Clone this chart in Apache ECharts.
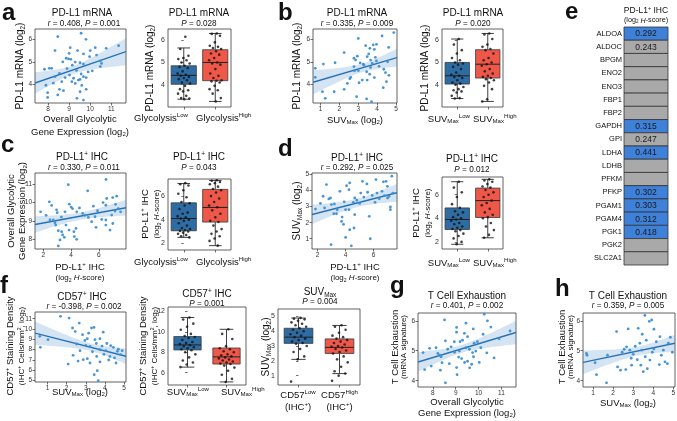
<!DOCTYPE html>
<html><head><meta charset="utf-8">
<script src="https://cdn.jsdelivr.net/npm/echarts@6/dist/echarts.min.js"></script>
<style>html,body{margin:0;padding:0;background:#fff}#c{width:677px;height:421px}</style>
</head><body><div id="c"></div>
<script>
// ================= DATA =================
// a: PD-L1 mRNA vs overall glycolytic gene expression
const aX = [8.46,9.57,9.80,8.33,9.05,10.24,10.76,11.35,9.40,9.00,9.68,9.97,8.86,8.97,9.08,9.29,9.52,9.68,10.48,10.54,10.48,7.83,8.06,8.17,8.33,8.54,8.81,9.02,9.21,9.44,9.52,9.68,9.81,9.29,9.13,9.57,7.90,8.65,7.98,8.54,8.73,9.52,9.81,9.37,7.98,8.46,9.68,9.90,8.90,10.10,9.35,8.70,9.15,10.00,8.25,9.60,10.30];
const aY = [6.12,6.27,6.00,5.50,5.63,5.63,5.60,5.72,5.50,5.38,5.35,5.23,5.16,5.13,5.11,4.99,4.96,4.90,5.04,4.93,4.79,4.67,4.71,4.71,4.34,4.49,4.30,4.41,4.27,4.19,4.22,4.34,4.30,4.04,4.12,4.46,3.96,4.12,3.63,3.78,3.72,3.67,3.78,3.38,3.42,3.53,3.30,4.55,4.70,4.60,4.62,5.00,4.85,5.50,4.05,3.95,5.30];
// a box: [low whisker, q1, median, q3, high whisker]
const aBoxLow  = [3.35,4.02,4.42,4.85,5.65];
const aBoxHigh = [3.25,4.18,5.00,5.57,6.30];
const aDotsLow  = [6.15,5.60,5.30,5.20,5.15,5.10,5.00,4.95,4.85,4.80,4.75,4.60,4.50,4.45,4.40,4.35,4.30,4.25,4.20,4.10,4.05,3.95,3.80,3.75,3.70,3.60,3.50,3.40,3.38,3.35];
const aDotsHigh = [6.30,6.28,6.20,5.90,5.75,5.70,5.65,5.60,5.50,5.40,5.35,5.20,5.10,5.00,4.95,4.90,4.70,4.50,4.40,4.30,4.20,4.18,4.15,4.10,3.95,3.80,3.75,3.60,3.40,3.25];

// b: PD-L1 mRNA vs SUVmax
const bX = [4.26,4.88,3.79,3.00,3.39,3.61,3.96,4.61,2.25,1.77,2.77,2.86,3.47,3.65,3.26,3.74,3.96,4.35,4.44,0.72,0.72,2.77,2.60,3.00,3.44,3.47,3.21,3.04,2.42,2.25,1.72,1.10,1.25,2.91,3.44,3.70,4.32,4.49,3.55,3.85,2.95,3.10,3.60,3.85,4.10,2.55,3.30,4.55,3.65,2.80,3.90,4.62,1.15];
const bY = [6.15,6.30,5.75,6.04,5.72,5.60,5.78,5.64,5.41,4.96,5.16,5.08,5.23,5.08,4.90,4.93,5.04,4.67,4.52,4.71,4.31,4.79,4.31,4.61,4.56,4.19,4.19,4.07,4.04,3.78,3.67,3.67,3.38,3.45,3.35,3.23,3.85,4.12,5.35,5.55,5.25,4.95,4.45,4.30,4.80,4.25,4.85,5.00,4.75,4.60,5.20,4.40,4.90];
const bBoxLow  = [3.38,4.03,4.40,5.00,6.05];
const bBoxHigh = [3.25,4.30,4.92,5.57,6.30];
const bDotsLow  = [6.05,5.80,5.55,5.40,5.20,5.10,5.00,4.95,4.90,4.80,4.70,4.55,4.45,4.40,4.35,4.30,4.20,4.10,4.05,4.00,3.90,3.80,3.75,3.70,3.65,3.50,3.40,3.38];
const bDotsHigh = [6.30,6.25,6.05,5.80,5.70,5.60,5.55,5.40,5.20,5.10,5.00,4.92,4.85,4.70,4.60,4.50,4.40,4.35,4.30,4.25,4.20,4.10,3.95,3.80,3.35,3.25];

// c: overall glycolytic expression vs PD-L1+ IHC
const cX = [6.51,3.80,5.19,2.43,2.60,1.80,3.87,4.10,4.40,3.56,3.00,4.83,6.50,6.56,6.99,7.28,7.40,7.16,7.56,6.92,5.72,5.24,6.20,6.50,5.48,5.79,6.50,6.80,2.48,2.72,2.84,2.89,3.08,3.32,3.63,3.85,4.20,4.35,3.39,3.20,3.51,4.23,4.40,3.08,4.60,5.00,5.90,6.30,7.20,2.20,3.30,4.00,5.60,7.00,2.95];
const cY = [11.27,10.98,10.64,10.04,9.84,9.49,9.91,9.67,9.49,9.49,9.44,9.40,9.85,10.22,10.27,10.35,9.67,9.53,9.49,9.31,9.22,9.18,9.07,9.04,8.95,8.64,8.76,8.49,9.04,9.04,8.89,8.76,8.45,8.40,8.76,8.49,8.40,8.58,8.22,7.95,8.09,8.13,7.98,7.62,9.70,9.30,9.55,10.00,9.90,9.30,9.20,9.75,9.80,8.85,9.60];
const cBoxLow  = [2.50,3.06,4.10,5.43,7.07];
const cBoxHigh = [1.80,3.80,5.04,6.57,7.33];
const cDotsLow  = [7.10,7.00,6.90,6.50,6.20,5.90,5.50,5.40,5.20,4.90,4.60,4.50,4.30,4.20,4.10,4.00,3.90,3.70,3.50,3.30,3.20,3.10,3.05,3.00,2.90,2.80,2.70,2.60,2.50];
const cDotsHigh = [7.35,7.30,7.20,7.10,7.00,6.80,6.60,6.50,6.30,6.00,5.80,5.50,5.20,5.05,4.80,4.50,4.20,3.90,3.80,3.50,3.20,3.00,2.80,2.60,2.40,2.20,1.80];

// d: SUVmax vs PD-L1+ IHC
const dX = [2.63,2.39,2.92,2.80,2.99,2.50,3.20,3.35,3.40,3.16,3.59,3.71,4.07,4.29,4.24,4.00,4.24,4.55,4.65,4.65,4.60,4.29,4.00,4.41,2.96,5.20,5.52,5.57,5.08,5.69,5.76,6.17,6.24,6.10,6.60,6.89,7.30,6.98,6.77,7.00,7.10,7.20,7.20,7.37,1.85,2.20,3.90,4.80,5.30,5.90,6.40,6.70,3.75,3.85,5.00];
const dY = [4.38,3.65,3.54,3.48,3.13,2.92,3.17,2.56,2.81,2.56,3.96,2.08,4.31,4.48,4.06,2.81,2.81,3.27,3.54,2.50,1.67,1.56,1.08,0.56,0.63,4.58,4.42,3.90,3.85,2.40,1.00,4.69,3.85,3.27,3.96,4.58,4.90,4.27,3.69,3.54,3.65,2.98,2.81,3.85,2.85,3.20,3.30,3.40,3.60,3.70,3.50,4.55,2.35,1.90,3.20];
const dBoxLow  = [1.80,3.05,3.90,4.88,7.10];
const dBoxHigh = [2.35,4.07,5.50,6.56,7.30];
const dDotsLow  = [7.10,6.60,6.20,5.80,5.20,4.90,4.60,4.50,4.30,4.10,4.00,3.90,3.80,3.60,3.50,3.30,3.20,3.10,3.00,2.90,2.70,2.50,2.30,2.00,1.80];
const dDotsHigh = [7.30,7.20,7.10,6.90,6.70,6.60,6.40,6.20,6.00,5.80,5.50,5.30,5.10,4.80,4.50,4.30,4.10,4.00,3.60,3.30,3.00,2.60,2.35];

// e: correlation with PD-L1+ IHC
const eGenes = ['ALDOA','ALDOC','BPGM','ENO2','ENO3','FBP1','FBP2','GAPDH','GPI','LDHA','LDHB','PFKM','PFKP','PGAM1','PGAM4','PGK1','PGK2','SLC2A1'];
const eR     = [0.292,0.243,null,null,null,null,null,0.315,0.247,0.441,null,null,0.302,0.303,0.312,0.418,null,null];
const eSig   = [true,false,false,false,false,false,false,true,false,true,false,false,true,true,true,true,false,false];

// f: CD57+ staining density vs SUVmax
const fX = [1.68,2.13,2.31,2.66,3.30,3.43,2.83,3.08,3.48,3.74,3.91,0.60,1.03,0.63,2.52,3.00,3.22,3.74,4.05,4.30,4.44,4.65,4.82,4.26,4.58,3.57,3.08,2.87,2.34,2.08,3.22,3.60,3.44,3.65,3.74,2.95,3.55,3.85,4.10,4.90,4.50,3.35,2.70,3.95,4.70,2.45,3.15,4.20,2.60];
const fY = [11.23,11.06,10.10,10.58,10.10,10.16,9.45,9.06,8.97,9.06,9.70,9.29,8.97,8.23,8.55,8.42,8.32,8.00,7.90,8.39,8.23,7.84,7.52,7.35,6.71,7.35,7.13,7.03,7.45,6.61,6.71,5.97,5.58,5.00,6.81,8.90,8.60,8.35,8.60,7.90,7.20,7.80,7.90,7.55,8.05,9.75,9.60,7.00,6.90];
const fBoxLow  = [6.55,8.23,8.72,9.54,11.40];
const fBoxHigh = [5.10,6.85,7.55,8.42,10.25];
const fDotsLow  = [11.40,11.20,10.80,10.50,10.20,9.80,9.60,9.50,9.40,9.20,9.00,8.90,8.80,8.70,8.60,8.50,8.40,8.30,8.20,8.00,7.80,7.50,7.20,7.00,6.80,6.55];
const fDotsHigh = [10.25,9.80,9.30,8.60,8.40,8.30,8.10,8.00,7.80,7.70,7.60,7.50,7.40,7.30,7.20,7.10,7.00,6.90,6.85,6.70,6.50,6.20,5.80,5.40,5.10];
// f (right): SUVmax by CD57 group
const f2BoxLow  = [2.10,3.18,3.60,4.20,4.89];
const f2BoxHigh = [1.14,2.50,2.91,3.48,4.39];
const f2DotsLow  = [4.90,4.85,4.80,4.70,4.60,4.50,4.40,4.30,4.20,4.10,4.00,3.90,3.80,3.70,3.60,3.50,3.40,3.30,3.20,3.15,3.00,2.80,2.60,2.30,2.10,0.60];
const f2DotsHigh = [4.40,4.30,4.10,3.90,3.70,3.60,3.50,3.40,3.30,3.20,3.10,3.00,2.95,2.90,2.80,2.70,2.60,2.50,2.30,2.10,1.90,1.60,1.30,1.15,1.00,0.65];

// g: T cell exhaustion vs overall glycolytic expression
const gX = [8.51,10.25,10.39,9.04,9.04,9.45,9.77,10.54,8.55,8.94,8.80,9.19,9.38,9.52,9.81,9.45,9.16,9.74,9.88,9.78,10.36,10.68,9.13,9.26,9.39,9.52,10.03,8.14,7.86,8.22,8.29,8.36,7.57,7.64,7.93,8.33,8.72,9.04,9.06,8.55,9.61,11.38,9.95,10.10,8.65,9.30,9.60,8.40,10.90,9.70,8.95,10.20];
const gY = [6.03,6.22,6.00,5.78,5.62,5.92,5.73,5.79,5.33,5.30,5.13,5.30,5.58,5.47,5.25,5.10,4.99,4.94,4.99,4.80,4.93,4.76,4.79,4.74,4.61,4.65,4.61,5.10,5.08,4.91,4.85,4.80,4.94,4.37,4.49,4.35,4.57,4.44,4.20,3.93,4.43,5.66,5.30,5.10,5.05,5.35,5.05,4.60,5.40,4.55,4.95,5.55];
// h: T cell exhaustion vs SUVmax
const hX = [0.67,0.70,1.10,1.17,1.67,1.72,2.17,2.22,2.37,2.63,2.67,2.83,2.75,2.92,3.00,3.25,3.33,3.42,3.38,3.58,3.80,3.92,4.03,3.60,3.83,4.03,4.33,4.50,4.58,4.70,4.75,4.30,2.55,3.10,3.45,3.65,3.20,3.95,4.15,4.85,2.90,3.50,4.40,2.45,3.70,4.95];
const hY = [4.91,4.85,4.60,4.20,3.93,4.85,5.64,4.46,4.35,4.37,5.13,5.02,5.73,4.52,4.88,5.75,5.25,5.02,4.52,6.18,5.98,6.03,5.72,4.80,4.69,5.06,5.47,5.02,4.63,4.57,5.25,4.54,5.05,5.15,5.55,5.35,4.70,4.95,5.30,5.45,4.75,4.30,4.85,4.95,4.40,4.95];

// ================= RENDERING =================
const FONT = '"Liberation Sans", Arial, Helvetica, sans-serif';
const INK = '#111';
const BLUE_BOX = '#2e6ca4', RED_BOX = '#ef5848';
const PT = '#3f8fd3', LINE = '#2471b5', BAND = 'rgba(60,130,200,0.22)';
const grid = [], xAxis = [], yAxis = [], series = [], graphic = [];

function R(fs) {
  const s = fs * 0.64;
  return {
    i:   {fontStyle:'italic', fontSize:fs, fontFamily:FONT, fill:INK, color:INK},
    sub: {fontSize:s, fontFamily:FONT, verticalAlign:'bottom', lineHeight:s*1.05, fill:INK, color:INK},
    sup: {fontSize:s, fontFamily:FONT, verticalAlign:'top', lineHeight:s*1.05, fill:INK, color:INK}
  };
}
function T(x, y, text, fs, o = {}) {
  graphic.push({type:'text', x, y, rotation:o.rot || 0, silent:true, z:50,
    style:{text, fontSize:fs, fontFamily:FONT, fontWeight:o.bold ? 'bold' : 'normal', fill:INK,
      align:o.align || 'center', verticalAlign:o.va || 'middle', lineHeight:fs*1.15, rich:R(fs)}});
}
function addGrid(b, show = true) {
  grid.push({left:b[0], top:b[1], width:b[2], height:b[3], show, borderColor:'#3a3a3a', borderWidth:0.8,
    backgroundColor:'rgba(0,0,0,0)', containLabel:false, outerBoundsMode:'none'});
  return grid.length - 1;
}
function vAxis(gi, min, max, ticks, fs, showLabel = true) {
  return {type:'value', gridIndex:gi, min, max, axisLine:{show:false}, splitLine:{show:false},
    axisTick:{show:true, length:2.5, lineStyle:{color:'#333', width:0.7}, customValues:ticks},
    axisLabel:{show:showLabel, customValues:ticks, fontSize:fs, color:'#333', margin:3, fontFamily:FONT}};
}
function ols(xs, ys) {
  const n = xs.length;
  const mx = xs.reduce((s, v) => s + v, 0) / n, my = ys.reduce((s, v) => s + v, 0) / n;
  let sxx = 0, sxy = 0;
  for (let i = 0; i < n; i++) { sxx += (xs[i] - mx) ** 2; sxy += (xs[i] - mx) * (ys[i] - my); }
  const b = sxy / sxx, a = my - b * mx;
  let sse = 0;
  for (let i = 0; i < n; i++) sse += (ys[i] - a - b * xs[i]) ** 2;
  return {a, b, mx, n, sxx, s:Math.sqrt(sse / (n - 2))};
}
function scatterPanel(box, xr, yr, xt, yt, xs, ys) {
  const gi = addGrid(box);
  xAxis.push(vAxis(gi, xr[0], xr[1], xt, 6.5));
  yAxis.push(vAxis(gi, yr[0], yr[1], yt, 6.5));
  const ai = xAxis.length - 1;
  const f = ols(xs, ys);
  series.push({type:'custom', xAxisIndex:ai, yAxisIndex:ai, clip:true, silent:true, z:1, data:[[0]],
    renderItem:(p, api) => {
      const up = [], lo = [], N = 40;
      for (let k = 0; k <= N; k++) {
        const x = xr[0] + (xr[1] - xr[0]) * k / N, yh = f.a + f.b * x;
        const se = f.s * Math.sqrt(1 / f.n + (x - f.mx) ** 2 / f.sxx) * 1.99;
        up.push(api.coord([x, yh + se])); lo.push(api.coord([x, yh - se]));
      }
      const p0 = api.coord([xr[0], f.a + f.b * xr[0]]), p1 = api.coord([xr[1], f.a + f.b * xr[1]]);
      return {type:'group', children:[
        {type:'polygon', shape:{points:up.concat(lo.reverse())}, style:{fill:BAND}},
        {type:'line', shape:{x1:p0[0], y1:p0[1], x2:p1[0], y2:p1[1]}, style:{stroke:LINE, lineWidth:1.4}}
      ]};
    }});
  series.push({type:'scatter', xAxisIndex:ai, yAxisIndex:ai, silent:true, z:3, symbolSize:2.8,
    itemStyle:{color:PT, opacity:0.95}, data:xs.map((x, i) => [x, ys[i]])});
}
function jit(k) { return (((k * 0.6180339887) % 1) - 0.5) * 0.42; }
function boxPanel(box, yr, yt, stats, dots, bw) {
  const gi = addGrid(box);
  xAxis.push(vAxis(gi, -0.5, 1.5, [0, 1], 9.5, false));
  yAxis.push(vAxis(gi, yr[0], yr[1], yt, 7));
  const ai = xAxis.length - 1;
  const cols = [BLUE_BOX, RED_BOX];
  series.push({type:'custom', xAxisIndex:ai, yAxisIndex:ai, silent:true, z:2,
    data:stats.map((s, i) => [i].concat(s)),
    renderItem:(p, api) => {
      const i = api.value(0);
      const w = api.size([1, 0])[0] * (bw || 0.8), cw = w * 0.5;
      const P = k => api.coord([i, api.value(k)]);
      const lo = P(1), q1 = P(2), md = P(3), q3 = P(4), hi = P(5), cx = lo[0];
      const st = {stroke:'#2b2b2b', lineWidth:0.9};
      return {type:'group', children:[
        {type:'line', shape:{x1:cx, y1:lo[1], x2:cx, y2:q1[1]}, style:st},
        {type:'line', shape:{x1:cx, y1:q3[1], x2:cx, y2:hi[1]}, style:st},
        {type:'line', shape:{x1:cx - cw / 2, y1:lo[1], x2:cx + cw / 2, y2:lo[1]}, style:st},
        {type:'line', shape:{x1:cx - cw / 2, y1:hi[1], x2:cx + cw / 2, y2:hi[1]}, style:st},
        {type:'rect', shape:{x:cx - w / 2, y:q3[1], width:w, height:q1[1] - q3[1]}, style:{fill:cols[i], stroke:'#3a3a3a', lineWidth:0.8}},
        {type:'line', shape:{x1:cx - w / 2, y1:md[1], x2:cx + w / 2, y2:md[1]}, style:{stroke:'#222', lineWidth:1}}
      ]};
    }});
  dots.forEach((arr, i) => {
    series.push({type:'scatter', xAxisIndex:ai, yAxisIndex:ai, silent:true, z:4, symbolSize:2.6,
      itemStyle:{color:'#111'}, data:arr.map((v, k) => [i + jit(k + 1), v])});
  });
}

// ---- panel a ----
scatterPanel([35, 29, 91, 74], [7.38, 11.7], [3.17, 6.46], [8, 9, 10, 11], [4, 5, 6], aX, aY);
boxPanel([168, 29, 63, 78], [3.0, 6.5], [4, 5, 6], [aBoxLow, aBoxHigh], [aDotsLow, aDotsHigh]);
// ---- panel b ----
scatterPanel([313, 29, 84, 74], [0.6, 5.05], [3.17, 6.46], [1, 2, 3, 4, 5], [4, 5, 6], bX, bY);
boxPanel([442, 29, 61, 78], [3.0, 6.5], [4, 5, 6], [bBoxLow, bBoxHigh], [bDotsLow, bDotsHigh]);
// ---- panel c ----
scatterPanel([35, 173, 91, 76], [1.4, 7.95], [7.45, 11.62], [2, 4, 6], [8, 9, 10, 11], cX, cY);
boxPanel([168, 179, 63, 71], [1.43, 7.45], [2, 4, 6], [cBoxLow, cBoxHigh], [cDotsLow, cDotsHigh]);
// ---- panel d ----
scatterPanel([312, 173, 85, 76], [1.6, 7.67], [0.36, 5.1], [2, 4, 6], [1, 2, 3, 4, 5], dX, dY);
boxPanel([442, 177, 61, 72], [1.4, 7.5], [2, 4, 6], [dBoxLow, dBoxHigh], [dDotsLow, dDotsHigh]);
// ---- panel f ----
scatterPanel([35, 312, 91, 70], [0.35, 5.1], [4.87, 11.65], [1, 2, 3, 4, 5], [5, 6, 7, 8, 9, 10, 11], fX, fY);
boxPanel([168, 307, 78, 78], [4.8, 12.43], [6, 8, 10, 12], [fBoxLow, fBoxHigh], [fDotsLow, fDotsHigh], 0.7);
boxPanel([278, 309, 82, 76], [0.37, 5.5], [1, 2, 3, 4, 5], [f2BoxLow, f2BoxHigh], [f2DotsLow, f2DotsHigh], 0.7);
// ---- panel g, h ----
scatterPanel([418, 313, 98, 74], [7.35, 11.64], [3.79, 6.26], [8, 9, 10, 11], [4, 5, 6], gX, gY);
scatterPanel([583, 313, 92, 74], [0.5, 5.08], [3.79, 6.26], [1, 2, 3, 4, 5], [4, 5, 6], hX, hY);

// ---- panel e: table ----
{
  const gi = addGrid([624, 27, 44, 238], false);
  xAxis.push({type:'category', gridIndex:gi, data:['r'], axisLine:{show:false}, axisTick:{show:false}, axisLabel:{show:false}, splitLine:{show:false}});
  yAxis.push({type:'category', gridIndex:gi, data:eGenes, inverse:true, axisLine:{show:false}, axisTick:{show:false}, splitLine:{show:false},
    axisLabel:{fontSize:7.5, color:INK, margin:2, fontFamily:FONT}});
  const ai = xAxis.length - 1;
  series.push({type:'custom', xAxisIndex:ai, yAxisIndex:ai, silent:true, z:2,
    data:eGenes.map((g, i) => [0, i]),
    renderItem:(p, api) => {
      const i = p.dataIndex, c = api.coord([0, i]);
      const w = api.size([1, 0])[0], h = api.size([0, 1])[1];
      const ch = [{type:'rect', shape:{x:c[0] - w / 2, y:c[1] - h / 2, width:w, height:h},
        style:{fill:eSig[i] ? '#3f80d8' : '#a9a9a9', stroke:'#333', lineWidth:0.8}}];
      if (eR[i] !== null) ch.push({type:'text', x:c[0], y:c[1] + 0.5, style:{text:eR[i].toFixed(3), fontSize:8.5, fontFamily:FONT, fill:'#1a1a1a', align:'center', verticalAlign:'middle'}});
      return {type:'group', children:ch};
    }});
}

// ---- texts ----
const ROT = Math.PI / 2;
// panel letters
T(2, 13, 'a', 24, {bold:true, align:'left'});
T(278, 13, 'b', 24, {bold:true, align:'left'});
T(1, 145, 'c', 24, {bold:true, align:'left'});
T(278, 149, 'd', 24, {bold:true, align:'left'});
T(565, 12, 'e', 24, {bold:true, align:'left'});
T(0, 286, 'f', 24, {bold:true, align:'left'});
T(390, 286, 'g', 24, {bold:true, align:'left'});
T(555, 289, 'h', 24, {bold:true, align:'left'});
// a
T(82, 13, 'PD-L1 mRNA', 10); T(84, 23.5, '{i|r} = 0.408, {i|P} = 0.001', 8.2);
T(199, 13, 'PD-L1 mRNA', 10); T(199, 23.5, '{i|P} = 0.028', 8.2);
T(20, 66, 'PD-L1 mRNA (log{sub|2})', 10, {rot:ROT});
T(150, 68, 'PD-L1 mRNA (log{sub|2})', 10, {rot:ROT});
T(80, 119, 'Overall Glycolytic', 9.5); T(80, 132, 'Gene Expression (log{sub|2})', 9.5);
T(188, 118, 'Glycolysis{sup|Low}', 9.5, {align:'right'});
T(196, 118, 'Glycolysis{sup|High}', 9.5, {align:'left'});
// b
T(357, 13, 'PD-L1 mRNA', 10); T(357, 23.5, '{i|r} = 0.335, {i|P} = 0.009', 8.2);
T(473, 13, 'PD-L1 mRNA', 10); T(473, 23.5, '{i|P} = 0.020', 8.2);
T(297, 66, 'PD-L1 mRNA (log{sub|2})', 10, {rot:ROT});
T(425, 68, 'PD-L1 mRNA (log{sub|2})', 10, {rot:ROT});
T(355, 120, 'SUV{sub|Max} (log{sub|2})', 9.5);
T(470, 119, 'SUV{sub|Max}{sup|Low}', 9.5, {align:'right'});
T(473, 119, 'SUV{sub|Max}{sup|High}', 9.5, {align:'left'});
// c
T(82, 157, 'PD-L1{sup|+} IHC', 10); T(84, 167.5, '{i|r} = 0.330, {i|P} = 0.011', 8.2);
T(199, 157, 'PD-L1{sup|+} IHC', 10); T(199, 167.5, '{i|P} = 0.043', 8.2);
T(11, 211, 'Overall Glycolytic', 9.5, {rot:ROT});
T(22.5, 211, 'Gene Expression (log{sub|2})', 9.5, {rot:ROT});
T(145, 214, 'PD-L1{sup|+} IHC', 9.5, {rot:ROT});
T(157, 214, '(log{sub|2} {i|H}-score)', 8, {rot:ROT});
T(80, 267, 'PD-L1{sup|+} IHC', 9.5); T(80, 278, '(log{sub|2} {i|H}-score)', 8);
T(188, 262, 'Glycolysis{sup|Low}', 9.5, {align:'right'});
T(196, 262, 'Glycolysis{sup|High}', 9.5, {align:'left'});
// d
T(357, 158, 'PD-L1{sup|+} IHC', 10); T(357, 168, '{i|r} = 0.292, {i|P} = 0.025', 8.2);
T(472, 159, 'PD-L1{sup|+} IHC', 10); T(472, 170, '{i|P} = 0.012', 8.2);
T(297, 211, 'SUV{sub|Max} (log{sub|2})', 10, {rot:ROT});
T(416, 213, 'PD-L1{sup|+} IHC', 9.5, {rot:ROT});
T(428, 213, '(log{sub|2} {i|H}-score)', 8, {rot:ROT});
T(355, 267, 'PD-L1{sup|+} IHC', 9.5); T(355, 278, '(log{sub|2} {i|H}-score)', 8);
T(470, 263, 'SUV{sub|Max}{sup|Low}', 9.5, {align:'right'});
T(473, 263, 'SUV{sub|Max}{sup|High}', 9.5, {align:'left'});
// e
T(646, 11, 'PD-L1{sup|+} IHC', 8.5); T(646, 20.5, '(log{sub|2} {i|H}-score)', 7.2);
// f
T(82, 297, 'CD57{sup|+} IHC', 10); T(84, 307, '{i|r} = -0.398, {i|P} = 0.002', 8.2);
T(207, 294, 'CD57{sup|+} IHC', 10); T(207, 304, '{i|P} = 0.001', 8.2);
T(320, 292, 'SUV{sub|Max}', 10); T(320, 302, '{i|P} = 0.004', 8.2);
T(10, 346, 'CD57{sup|+} Staining Density', 9.5, {rot:ROT});
T(21.5, 346, '(IHC{sup|+} Cells/mm{sup|2}, log{sub|2})', 8, {rot:ROT});
T(143, 346, 'CD57{sup|+} Staining Density', 9.5, {rot:ROT});
T(154.5, 346, '(IHC{sup|+} Cells/mm{sup|2}, log{sub|2})', 8, {rot:ROT});
T(266, 347, 'SUV{sub|Max} (log{sub|2})', 10, {rot:ROT});
T(80, 392, 'SUV{sub|Max} (log{sub|2})', 9.5);
T(209, 392, 'SUV{sub|Max}{sup|Low}', 9.5, {align:'right'});
T(221, 392, 'SUV{sub|Max}{sup|High}', 9.5, {align:'left'});
T(298, 395, 'CD57{sup|Low}', 9.5); T(298, 407, '(IHC{sup|+})', 9.5);
T(339.5, 395, 'CD57{sup|High}', 9.5); T(339.5, 407, '(IHC{sup|+})', 9.5);
// g
T(467, 296, 'T Cell Exhaustion', 10); T(467, 306, '{i|r} = 0.401, {i|P} = 0.002', 8.2);
T(395, 347, 'T Cell Exhaustion', 9.5, {rot:ROT});
T(404, 347, '(mRNA signature)', 8, {rot:ROT});
T(467, 402, 'Overall Glycolytic', 9.5); T(467, 413, 'Gene Expression (log{sub|2})', 9.5);
// h
T(628, 296, 'T Cell Exhaustion', 10); T(628, 306, '{i|r} = 0.359, {i|P} = 0.005', 8.2);
T(562, 347, 'T Cell Exhaustion', 9.5, {rot:ROT});
T(571, 347, '(mRNA signature)', 8, {rot:ROT});
T(628, 403, 'SUV{sub|Max} (log{sub|2})', 9.5);

const chart = echarts.init(document.getElementById('c'), null, {renderer:'canvas'});
chart.setOption({animation:false, backgroundColor:'#fff', textStyle:{fontFamily:FONT}, grid, xAxis, yAxis, series, graphic});
</script>
</body></html>
